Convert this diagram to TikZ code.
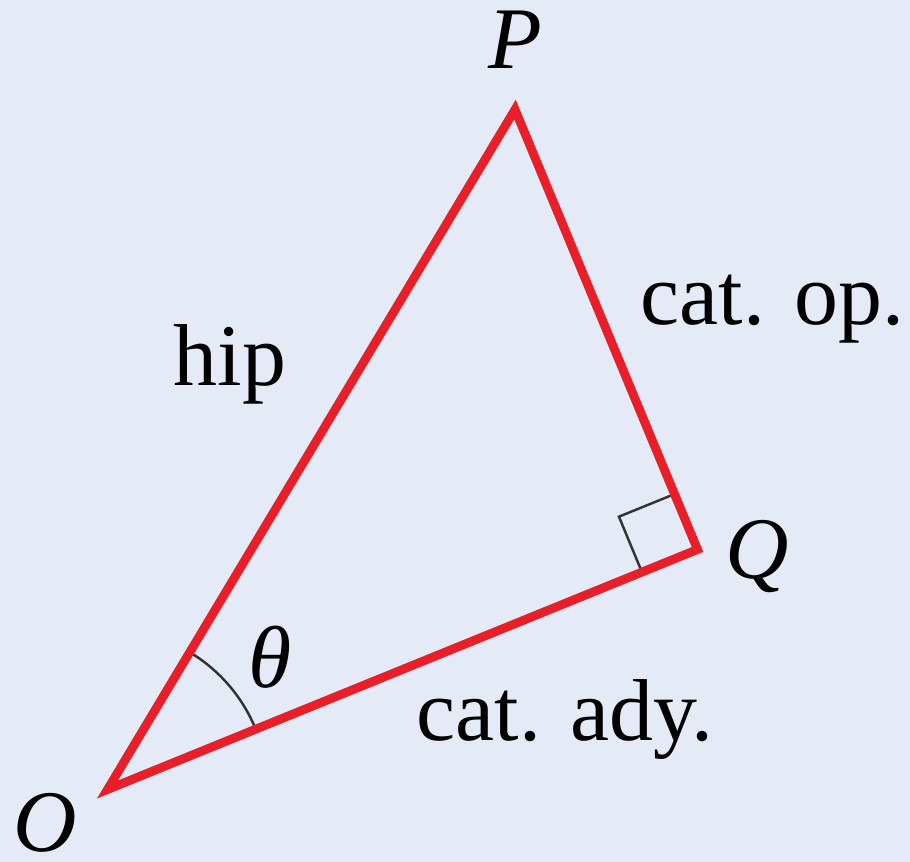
\documentclass[tikz,border=0pt]{standalone}
\usepackage{fontspec}
\setmainfont{Liberation Serif}
\usetikzlibrary{angles, calc}
\definecolor{bgblue}{RGB}{228, 234, 246}
\definecolor{sidered}{RGB}{232, 30, 40}

\begin{document}
\begin{tikzpicture}[
    side/.style={draw=sidered, line width=5pt, line join=miter},
    anglemark/.style={draw=black!80, line width=1.4pt},
    lbl/.style={inner sep=0pt, font=\fontsize{50}{60}\selectfont}
  ]
    \fill[bgblue] (0,0) rectangle (18.2,17.24);
    \useasboundingbox (0,0) rectangle (18.2,17.24);

    % vertices
    \coordinate (O) at (2.15,1.45);
    \coordinate (P) at (10.3,15.05);
    \coordinate (Q) at (13.95,6.25);

    % marks
    \pic[anglemark, angle radius=3.2cm] {angle=Q--O--P};
    \pic[anglemark, angle radius=1.2cm] {right angle=O--Q--P};

    \draw[side] (O) -- (P) -- (Q) -- cycle;

    % labels
    \node[lbl] (lP) at (10.3,16.45) {\itshape P};
    \node[lbl] (lQ) at (15.15,6.1) {\itshape Q};
    \node[lbl] (lO) at (0.9,0.78) {\itshape O};
    \node[lbl] (hip) at (4.6,9.95) {hip};
    \node[lbl] (op) at (15.45,11.05) {cat. op.};
    \node[lbl] (theta) at (5.4,4.1) {\itshape θ};
    \node[lbl] (ady) at (11.3,2.85) {cat. ady.};
  \end{tikzpicture}
\end{document}
